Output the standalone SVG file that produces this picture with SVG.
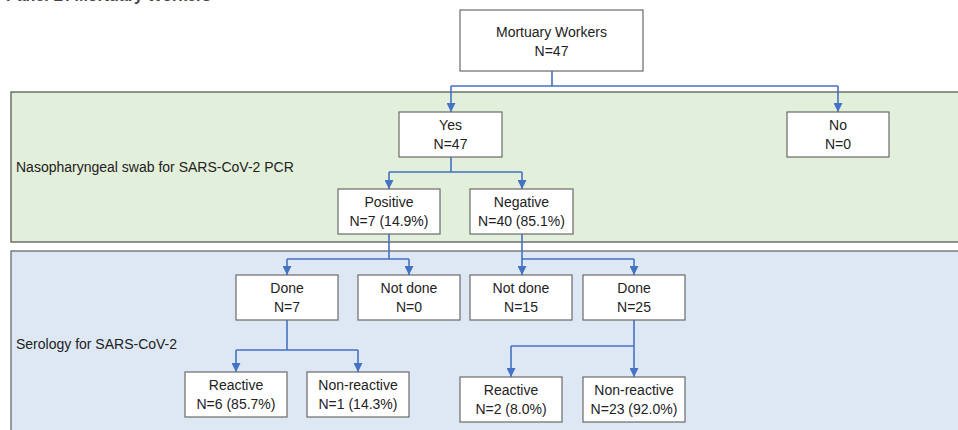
<svg xmlns="http://www.w3.org/2000/svg" width="958" height="430" viewBox="0 0 958 430">
<defs>
<marker id="arr" viewBox="0 0 10 10" refX="10" refY="5" markerWidth="9" markerHeight="9" markerUnits="userSpaceOnUse" orient="auto">
<path d="M0,0 L10,5 L0,10 z" fill="#4472c4"/>
</marker>
<style>
.band-g{fill:#e2efda;stroke:#5a5a5a;stroke-width:1.3}
.band-b{fill:#dde8f4;stroke:#6a6a6a;stroke-width:1.3}
.box{fill:#ffffff;stroke:#6a6a6a;stroke-width:1.2}
text{font-family:"Liberation Sans",Arial,sans-serif;font-size:14px;fill:#222}
.c{text-anchor:middle}
.con{fill:none;stroke:#4472c4;stroke-width:1.6}
.arr{fill:none;stroke:#4472c4;stroke-width:1.6;marker-end:url(#arr)}
</style>
</defs>
<rect width="958" height="430" fill="#ffffff"/>
<text x="6" y="1" style="font-size:16px;font-weight:bold;fill:#444">Panel B: Mortuary Workers</text>

<g id="band-pcr">
<rect class="band-g" x="11" y="92" width="950" height="150"/>
<text x="16" y="172">Nasopharyngeal swab for SARS-CoV-2 PCR</text>
</g>
<g id="band-sero">
<rect class="band-b" x="11" y="251" width="950" height="190"/>
<text x="16" y="349">Serology for SARS-CoV-2</text>
</g>

<g id="connectors">
<path class="con" d="M552,71 V86 H451 M552,86 H838"/>
<path class="arr" d="M451,86 V112"/>
<path class="arr" d="M838,86 V112"/>
<path class="con" d="M451,157 V172 H389 M451,172 H522"/>
<path class="arr" d="M389,172 V189"/>
<path class="arr" d="M522,172 V189"/>
<path class="con" d="M389,234 V259 H287 M389,259 H409"/>
<path class="arr" d="M287,259 V275"/>
<path class="arr" d="M409,259 V275"/>
<path class="con" d="M522,234 V259 H634"/>
<path class="arr" d="M522,259 V275"/>
<path class="arr" d="M634,259 V275"/>
<path class="con" d="M287,320 V350 H236 M287,350 H358"/>
<path class="arr" d="M236,350 V372"/>
<path class="arr" d="M358,350 V372"/>
<path class="con" d="M634,346 H511"/>
<path class="arr" d="M634,320 V377"/>
<path class="arr" d="M511,346 V377"/>
</g>

<g id="node-mortuary">
<rect class="box" x="460" y="10" width="183" height="61"/>
<text class="c" x="551.5" y="37">Mortuary Workers</text>
<text class="c" x="551.5" y="56">N=47</text>
</g>
<g id="node-yes">
<rect class="box" x="399" y="112" width="103" height="45"/>
<text class="c" x="450.5" y="130">Yes</text>
<text class="c" x="450.5" y="149">N=47</text>
</g>
<g id="node-no">
<rect class="box" x="787" y="112" width="102" height="45"/>
<text class="c" x="838" y="130">No</text>
<text class="c" x="838" y="149">N=0</text>
</g>
<g id="node-positive">
<rect class="box" x="338" y="189" width="102" height="45"/>
<text class="c" x="389" y="207">Positive</text>
<text class="c" x="389" y="226">N=7 (14.9%)</text>
</g>
<g id="node-negative">
<rect class="box" x="470" y="189" width="103" height="45"/>
<text class="c" x="521.5" y="207">Negative</text>
<text class="c" x="521.5" y="226">N=40 (85.1%)</text>
</g>
<g id="node-done1">
<rect class="box" x="236" y="275" width="102" height="45"/>
<text class="c" x="287" y="293">Done</text>
<text class="c" x="287" y="312">N=7</text>
</g>
<g id="node-notdone1">
<rect class="box" x="358" y="275" width="102" height="45"/>
<text class="c" x="409" y="293">Not done</text>
<text class="c" x="409" y="312">N=0</text>
</g>
<g id="node-notdone2">
<rect class="box" x="470" y="275" width="102" height="45"/>
<text class="c" x="521" y="293">Not done</text>
<text class="c" x="521" y="312">N=15</text>
</g>
<g id="node-done2">
<rect class="box" x="583" y="275" width="102" height="45"/>
<text class="c" x="634" y="293">Done</text>
<text class="c" x="634" y="312">N=25</text>
</g>
<g id="node-reactive1">
<rect class="box" x="185" y="372" width="102" height="45"/>
<text class="c" x="236" y="390">Reactive</text>
<text class="c" x="236" y="409">N=6 (85.7%)</text>
</g>
<g id="node-nonreactive1">
<rect class="box" x="307" y="372" width="102" height="45"/>
<text class="c" x="358" y="390">Non-reactive</text>
<text class="c" x="358" y="409">N=1 (14.3%)</text>
</g>
<g id="node-reactive2">
<rect class="box" x="460" y="377" width="102" height="45"/>
<text class="c" x="511" y="395">Reactive</text>
<text class="c" x="511" y="414">N=2 (8.0%)</text>
</g>
<g id="node-nonreactive2">
<rect class="box" x="583" y="377" width="102" height="45"/>
<text class="c" x="634" y="395">Non-reactive</text>
<text class="c" x="634" y="414">N=23 (92.0%)</text>
</g>
</svg>
